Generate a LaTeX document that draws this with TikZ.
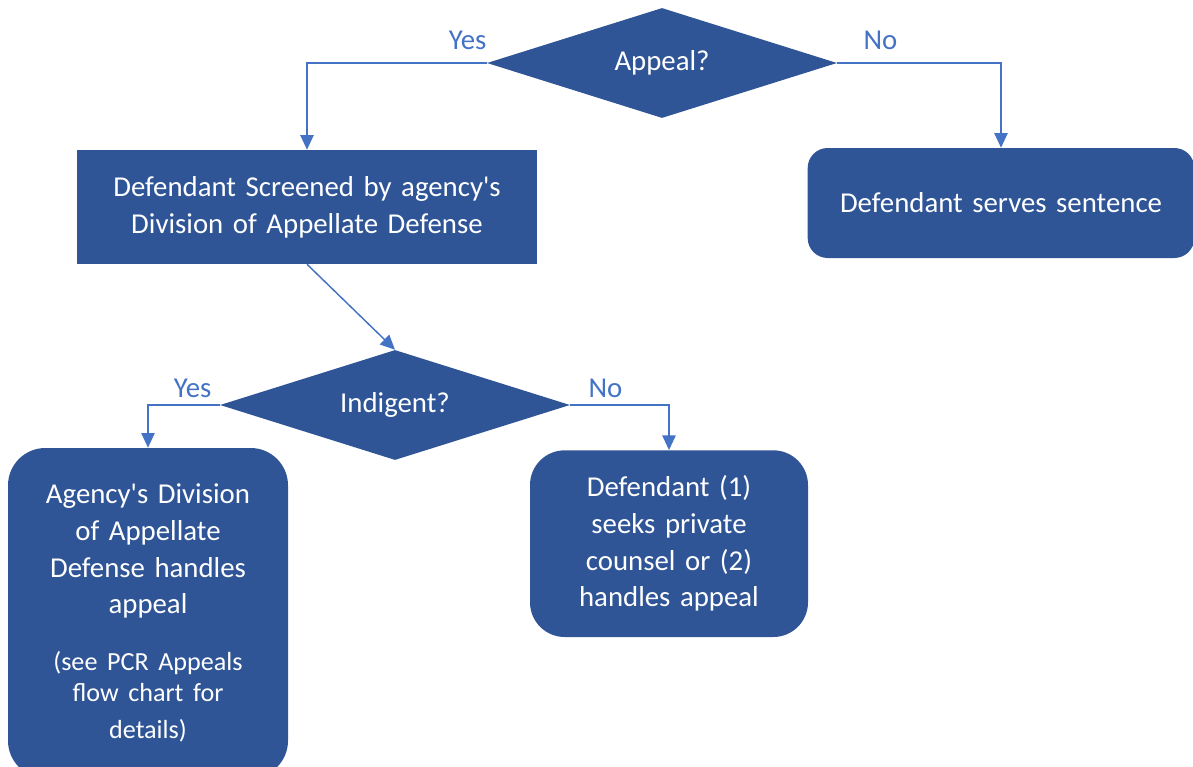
\documentclass[tikz,border=0pt]{standalone}
\usepackage{fontspec}
\setmainfont{Carlito}[Ligatures=TeXOff]
\usepackage{xcolor}
\usetikzlibrary{shapes.geometric, positioning, arrows.meta}
\definecolor{boxblue}{HTML}{2F5597}
\definecolor{lineblue}{HTML}{4472C4}

\begin{document}
\begin{tikzpicture}[on grid, node distance=1cm, >={Triangle[width=10pt,length=11pt]},
    every node/.style={font=\fontsize{21.6}{27.5}\selectfont},
    decision/.style={diamond, shape aspect=3.2, fill=boxblue, text=white, minimum width=262.5pt, minimum height=82.5pt, inner sep=0pt},
    block/.style={rectangle, fill=boxblue, text=white, align=center, inner sep=0pt},
    answer/.style={text=lineblue, inner sep=0pt},
    link/.style={->, draw=lineblue, line width=1.1pt}]
                \useasboundingbox (0,0) rectangle (894.75pt,-575.25pt);

                \node[decision] (appeal) at (496.5pt,-47.25pt) {Appeal?};
                \node[block, minimum width=345pt, minimum height=85.5pt, text width=330pt] (screen) [below left=108pt and 266.25pt of appeal]
                    {Defendant Screened by agency's\\Division of Appellate Defense};
                \node[block, rounded corners=15pt, minimum width=290pt, minimum height=82.5pt, text width=280pt] (serve) [below right=105pt and 254.25pt of appeal]
                    {Defendant serves sentence};
                \node[decision] (indigent) [below right=148.5pt and 66pt of screen] {Indigent?};
                \node[block, rounded corners=28pt, minimum width=210pt, minimum height=247.5pt, text width=200pt] (agency) [below left=156pt and 185.25pt of indigent]
                    {Agency's Division\\of Appellate\\Defense handles\\appeal\par\vspace{19pt}
                     \fontsize{19.6}{23.5}\selectfont(see PCR Appeals\\flow chart for\\details)};
                \node[block, rounded corners=26pt, minimum width=208.5pt, minimum height=140pt, text width=200pt] (private) [below right=104pt and 205.5pt of indigent]
                    {Defendant (1)\\seeks private\\counsel or (2)\\handles appeal};

                % answers
                \node[answer, anchor=south east] (yes1) at ([yshift=9.5pt]appeal.west) {Yes};
                \node[answer, anchor=south west] (no1) at ([xshift=19.5pt, yshift=9.5pt]appeal.east) {No};
                \node[answer, anchor=south east] (yes2) at ([xshift=-6pt, yshift=5.5pt]indigent.west) {Yes};
                \node[answer, anchor=south west] (no2) at ([xshift=13.5pt, yshift=5.5pt]indigent.east) {No};

                \draw[link] (appeal.west) -| (screen.north);
                \draw[link] (appeal.east) -| (serve.north);
                \draw[link] (screen.south) -- (indigent.north);
                \draw[link] (indigent.west) -| (agency.north);
                \draw[link] (indigent.east) -| (private.north);
\end{tikzpicture}
\end{document}
